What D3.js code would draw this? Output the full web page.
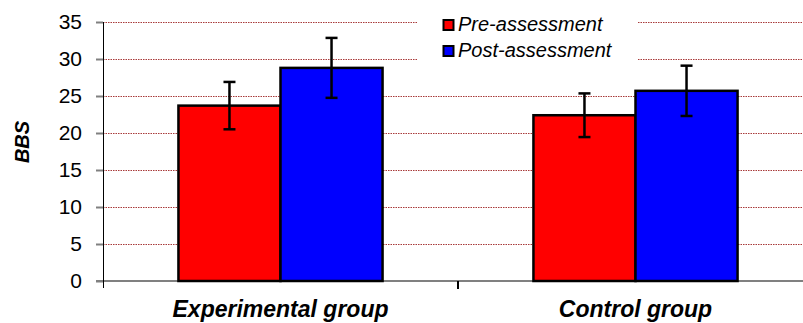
<!DOCTYPE html>
<html><head><meta charset="utf-8">
<script src="https://cdn.jsdelivr.net/npm/d3@7"></script>
<style>body{margin:0;background:#fff}svg{display:block}text{font-family:"Liberation Sans",Arial,sans-serif}</style>
</head><body>
<script>
const categories = ["Experimental group", "Control group"];
const seriesNames = ["Pre-assessment", "Post-assessment"];
const seriesColors = ["#ff0000", "#0000ff"];
const preMeans = [23.7, 22.4];
const preErrors = [3.2, 2.95];
const postMeans = [28.8, 25.7];
const postErrors = [4.05, 3.4];
const yTicks = [0, 5, 10, 15, 20, 25, 30, 35];
const yLabel = "BBS";

const W = 803, H = 323;
const svg = d3.select("body").append("svg").attr("width", W).attr("height", H);
const left = 103, right = 813, y0px = 281, y35px = 22;

const y = d3.scaleLinear().domain([0, 35]).range([y0px, y35px]);
const x0 = d3.scaleBand().domain(categories).range([left, right]).paddingInner(0.425).paddingOuter(0.2125);
const x1 = d3.scaleBand().domain(seriesNames).range([0, x0.bandwidth()]);

const data = categories.map((c, i) => ({
  cat: c,
  vals: [
    {s: seriesNames[0], v: preMeans[i], e: preErrors[i], color: seriesColors[0]},
    {s: seriesNames[1], v: postMeans[i], e: postErrors[i], color: seriesColors[1]}
  ]
}));

// gridlines
svg.append("g").selectAll("line").data(yTicks.filter(t => t > 0)).join("line")
  .attr("x1", left).attr("x2", W).attr("y1", d => y(d) + 0.5).attr("y2", d => y(d) + 0.5)
  .attr("stroke", "#a83a3a").attr("stroke-width", 1).attr("stroke-dasharray", "1.5,1");

// zero line
svg.append("line").attr("x1", 96).attr("x2", W).attr("y1", y(0)).attr("y2", y(0))
  .attr("stroke", "#808080").attr("stroke-width", 2);

// y axis
const yAxis = d3.axisLeft(y).tickValues(yTicks).tickSize(7).tickPadding(14);
const ga = svg.append("g").attr("transform", `translate(${left},0)`).call(yAxis);
ga.select(".domain").remove();
ga.selectAll(".tick line").attr("stroke", "#808080").attr("stroke-width", 2);
ga.selectAll(".tick text").attr("font-size", 21).attr("fill", "#000")
  .attr("font-family", '"Liberation Sans",Arial,sans-serif');
svg.append("line").attr("x1", left + 0.5).attr("x2", left + 0.5).attr("y1", y(35)).attr("y2", 288)
  .attr("stroke", "#000").attr("stroke-width", 1);

// category separator tick
svg.append("line").attr("x1", left + x0.step()).attr("x2", left + x0.step())
  .attr("y1", y(0)).attr("y2", 289).attr("stroke", "#000").attr("stroke-width", 2);

// legend background
svg.append("rect").attr("x", 418).attr("y", 8).attr("width", 220).attr("height", 56).attr("fill", "#fff");

// bars
const groups = svg.append("g").selectAll("g").data(data).join("g")
  .attr("transform", d => `translate(${x0(d.cat)},0)`);
groups.selectAll("rect").data(d => d.vals).join("rect")
  .attr("x", d => x1(d.s)).attr("width", x1.bandwidth())
  .attr("y", d => y(d.v)).attr("height", d => y(0) - y(d.v))
  .attr("fill", d => d.color).attr("stroke", "#000").attr("stroke-width", 2.5);

// error bars
const eb = groups.selectAll("g.err").data(d => d.vals).join("g").attr("class", "err");
eb.append("line").attr("x1", d => x1(d.s) + x1.bandwidth() / 2).attr("x2", d => x1(d.s) + x1.bandwidth() / 2)
  .attr("y1", d => y(d.v + d.e)).attr("y2", d => y(d.v - d.e)).attr("stroke", "#000").attr("stroke-width", 2.5);
eb.selectAll("line.cap").data(d => [{d, v: d.v + d.e}, {d, v: d.v - d.e}]).join("line").attr("class", "cap")
  .attr("x1", o => x1(o.d.s) + x1.bandwidth() / 2 - 6).attr("x2", o => x1(o.d.s) + x1.bandwidth() / 2 + 6)
  .attr("y1", o => y(o.v)).attr("y2", o => y(o.v)).attr("stroke", "#000").attr("stroke-width", 2.5);

// category labels
svg.append("g").selectAll("text").data(categories).join("text")
  .attr("x", d => x0(d) + x0.bandwidth() / 2).attr("y", 317)
  .attr("text-anchor", "middle").attr("font-size", 23).attr("font-weight", "bold").attr("font-style", "italic")
  .text(d => d);

// y label
svg.append("text").attr("transform", "translate(29,142) rotate(-90)")
  .attr("text-anchor", "middle").attr("font-size", 20).attr("font-weight", "bold").attr("font-style", "italic")
  .text(yLabel);

// legend
const leg = svg.append("g").selectAll("g").data(seriesNames).join("g")
  .attr("transform", (d, i) => `translate(443,${19.5 + i * 26})`);
leg.append("rect").attr("x", 0.5).attr("y", 0.5).attr("width", 10).attr("height", 10)
  .attr("fill", (d, i) => seriesColors[i]).attr("stroke", "#000").attr("stroke-width", 2);
leg.append("text").attr("x", 15).attr("y", 11.5).attr("font-size", 20).attr("font-style", "italic").text(d => d);
</script>
</body></html>
